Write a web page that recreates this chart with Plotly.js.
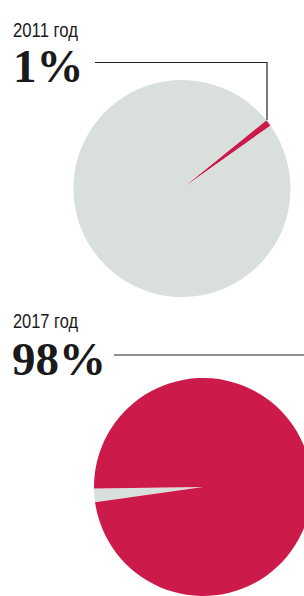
<!DOCTYPE html>
<html>
<head>
<meta charset="utf-8">
<script src="https://cdn.plot.ly/plotly-3.0.1.min.js"></script>
<style>
html,body{margin:0;padding:0;background:#fff;overflow:hidden;width:304px;height:596px;}
#chart{width:330px;height:596px;}
</style>
</head>
<body>
<div id="chart"></div>
<script>
// Data
var years = ["2011 год", "2017 год"];
var shareLabels = ["1%", "98%"];
var categories = ["Доля", "Остальное"];
var values2011 = [1, 99];
var values2017 = [98, 2];

var W = 330, H = 596;
function px(x){ return x / W; }
function py(y){ return 1 - y / H; }

var RED = "#cc1a4a", GRAY = "#d9e0dc";

var trace1 = {
  type: "pie",
  labels: categories,
  values: values2011,
  sort: false,
  direction: "clockwise",
  rotation: 51,
  textinfo: "none",
  hoverinfo: "label+percent",
  marker: {colors: [RED, GRAY], line: {width: 0}},
  domain: {x: [px(73.5), px(290.5)], y: [py(297), py(80)]},
  showlegend: false
};
var trace2 = {
  type: "pie",
  labels: categories,
  values: [values2017[1], values2017[0]],
  sort: false,
  direction: "clockwise",
  rotation: 262,
  textinfo: "none",
  hoverinfo: "label+percent",
  marker: {colors: [GRAY, RED], line: {width: 0}},
  domain: {x: [px(94), px(312)], y: [py(596), py(378)]},
  showlegend: false
};

var yearFont = {family: "Liberation Sans Narrow, Liberation Sans, Arial Narrow, sans-serif", size: 20, color: "#1a1a1a"};
var bigFont = {family: "Liberation Serif, DejaVu Serif, serif", size: 47, color: "#1a1a1a", weight: 700};

var layout = {
  width: W, height: H,
  margin: {l: 0, r: 0, t: 0, b: 0},
  paper_bgcolor: "#fff",
  plot_bgcolor: "#fff",
  showlegend: false,
  annotations: [
    {text: years[0], xref: "paper", yref: "paper", x: px(10), y: py(30), xanchor: "left", yanchor: "middle", showarrow: false, font: yearFont},
    {text: "<b>" + shareLabels[0] + "</b>", xref: "paper", yref: "paper", x: px(11), y: py(66), xanchor: "left", yanchor: "middle", showarrow: false, font: bigFont},
    {text: years[1], xref: "paper", yref: "paper", x: px(10), y: py(321), xanchor: "left", yanchor: "middle", showarrow: false, font: yearFont},
    {text: "<b>" + shareLabels[1] + "</b>", xref: "paper", yref: "paper", x: px(10), y: py(359), xanchor: "left", yanchor: "middle", showarrow: false, font: bigFont}
  ],
  shapes: [
    {type: "path", xref: "paper", yref: "paper",
     path: "M " + px(95) + "," + py(62.5) + " L " + px(267) + "," + py(62.5) + " L " + px(267) + "," + py(120),
     line: {color: "#222", width: 1.2}},
    {type: "line", xref: "paper", yref: "paper", x0: px(114), y0: py(355), x1: px(330), y1: py(355),
     line: {color: "#222", width: 1.2}}
  ]
};

Plotly.newPlot("chart", [trace1, trace2], layout, {displayModeBar: false, staticPlot: true}).then(function(gd){
  var texts = gd.querySelectorAll(".annotation-text");
  texts.forEach(function(t){
    if (years.indexOf(t.textContent) >= 0) {
      t.style.fontStretch = "condensed";
      var bb = t.getBBox();
      t.setAttribute("text-anchor", "start");
      t.style.textAnchor = "start";
      t.setAttribute("x", bb.x + 1);
      t.setAttribute("textLength", "65");
      t.setAttribute("lengthAdjust", "spacingAndGlyphs");
    }
  });
});
</script>
</body>
</html>
